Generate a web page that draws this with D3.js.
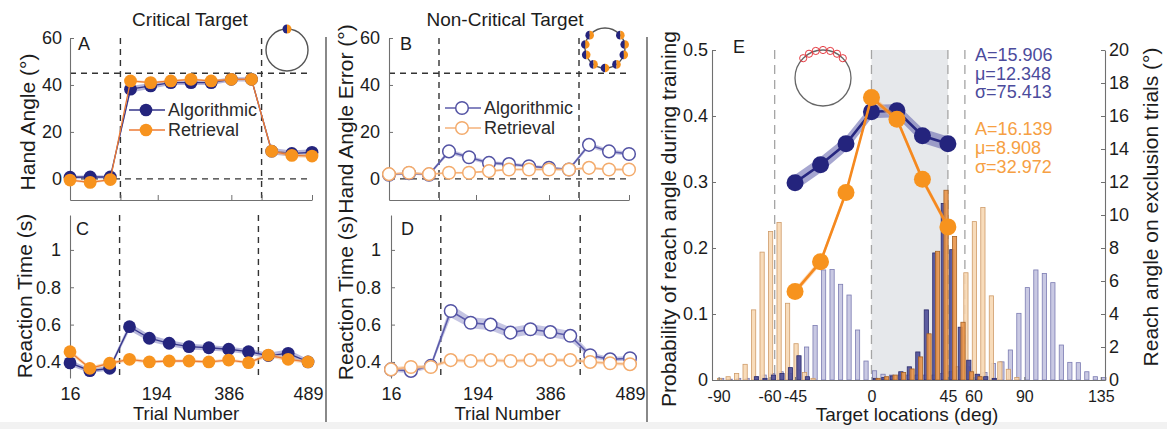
<!DOCTYPE html>
<html>
<head>
<meta charset="utf-8">
<script src="https://d3js.org/d3.v7.min.js"></script>
<style>
  body { margin: 0; background: #fff; }
  svg { display: block; }
</style>
</head>
<body>
<svg id="fig" width="1167" height="429"></svg>
<script>

///////////////////////////////////////////////////
//
//        Data
//
///////////////////////////////////////////////////

// trial bins (13 bins: baseline / training / washout)
var trialBins = [0, 1, 2, 3, 4, 5, 6, 7, 8, 9, 10, 11, 12];
var trialTickPos = [0, 4.35, 8, 12];
var trialTickLabels = ["16", "194", "386", "489"];
var phaseEdges = [2.5, 9.5];

// A - hand angle, critical target
var angleAlgoA   = [0.7, 0.8, 0.8, 38.2, 39.6, 41.0, 41.0, 41.0, 42.4, 42.4, 11.8, 10.8, 11.3];
var angleAlgoSeA = [0.6, 0.7, 0.6, 1.4, 1.2, 1.0, 1.0, 1.0, 0.9, 0.9, 1.4, 1.3, 1.3];
var angleRetrA   = [-0.5, -1.5, -0.3, 41.7, 41.0, 41.7, 42.4, 41.7, 42.4, 42.4, 11.8, 10.0, 9.7];
var angleRetrSeA = [0.5, 0.6, 0.5, 0.6, 0.5, 0.5, 0.5, 0.5, 0.5, 0.5, 0.8, 0.8, 0.8];

// B - hand angle error, non-critical targets
var errAlgoB   = [1.8, 2.4, 1.8, 11.7, 9.2, 6.8, 6.3, 5.4, 4.7, 4.0, 14.5, 11.7, 10.6];
var errAlgoSeB = [0.5, 0.5, 0.5, 1.0, 0.9, 0.8, 0.7, 0.7, 0.6, 0.6, 1.0, 0.9, 0.9];
var errRetrB   = [2.0, 2.6, 2.0, 2.6, 2.6, 3.3, 4.0, 4.0, 4.0, 4.0, 4.7, 4.0, 4.0];
var errRetrSeB = [0.4, 0.4, 0.4, 0.4, 0.4, 0.4, 0.4, 0.4, 0.4, 0.4, 0.5, 0.5, 0.5];

// C - reaction time, critical target
var rtAlgoC   = [0.395, 0.353, 0.366, 0.589, 0.527, 0.500, 0.482, 0.476, 0.468, 0.455, 0.434, 0.446, 0.400];
var rtAlgoSeC = [0.015, 0.012, 0.012, 0.020, 0.018, 0.016, 0.015, 0.015, 0.014, 0.014, 0.015, 0.020, 0.015];
var rtRetrC   = [0.455, 0.366, 0.393, 0.414, 0.400, 0.405, 0.405, 0.400, 0.410, 0.396, 0.437, 0.414, 0.400];
var rtRetrSeC = [0.012, 0.010, 0.010, 0.010, 0.008, 0.008, 0.008, 0.008, 0.008, 0.008, 0.012, 0.010, 0.010];

// D - reaction time, non-critical targets
var rtAlgoD   = [0.360, 0.352, 0.379, 0.673, 0.610, 0.600, 0.557, 0.575, 0.560, 0.540, 0.436, 0.414, 0.420];
var rtAlgoSeD = [0.012, 0.012, 0.012, 0.035, 0.030, 0.030, 0.028, 0.028, 0.026, 0.026, 0.015, 0.012, 0.012];
var rtRetrD   = [0.360, 0.373, 0.373, 0.410, 0.405, 0.410, 0.405, 0.410, 0.410, 0.410, 0.400, 0.393, 0.388];
var rtRetrSeD = [0.010, 0.010, 0.010, 0.010, 0.010, 0.010, 0.010, 0.010, 0.010, 0.010, 0.010, 0.010, 0.010];

var angleTicks = [0, 20, 40, 60];
var rtTicks = [0.4, 0.6, 0.8, 1];
var angleRefLines = [0, 45];
var nonCriticalTargets = [50, 80, 110, 145, 180, 215, 250, 280, 310];

// E - generalization
var targetLocs = [-45, -30, -15, 0, 15, 30, 45];
var probAlgo   = [0.299, 0.326, 0.358, 0.4065, 0.408, 0.370, 0.358];
var probAlgoSe = [0.012, 0.012, 0.011, 0.010, 0.010, 0.011, 0.011];
var probRetr   = [0.134, 0.179, 0.284, 0.428, 0.395, 0.304, 0.232];
var probRetrSe = [0.005, 0.005, 0.005, 0.005, 0.005, 0.005, 0.005];
var fitAlgo = ["A=15.906", "\u03bc=12.348", "\u03c3=75.413"];
var fitRetr = ["A=16.139", "\u03bc=8.908", "\u03c3=32.972"];

var histBins = [-90, -85, -80, -75, -70, -65, -60, -55, -50, -45, -40, -35, -30, -25, -20, -15,
                -10, -5, 0, 5, 10, 15, 20, 25, 30, 35, 40, 45, 50, 55, 60, 65, 70, 75, 80, 85,
                90, 95, 100, 105, 110, 115, 120, 125, 130, 135];
var histAlgoExcl = [0.1, 0.05, 0.1, 0.1, 0.2, 0.3, 0.4, 0.5, 0.4, 0.6, 2.0, 3.3, 6.67, 6.7, 5.8, 5.15,
                    3.03, 1.15, 0.56, 0.35, 0.3, 0.3, 0.3, 0.3, 0.3, 0.3, 0.4, 0.5, 0.6, 0.8, 0.3, 0.45,
                    1.0, 1.1, 1.82, 4.04, 5.6, 6.67, 6.46, 5.9, 2.12, 1.07, 1.05, 0.5, 0.2, 0.15];
var histRetrExcl = [0.1, 0.2, 0.4, 0.95, 4.25, 7.75, 9.0, 9.55, 4.65, 2.2, 0.45, 0.1, 0, 0, 0, 0,
                    0, 0, 0, 0, 0, 0, 0, 0, 0, 0, 0, 0, 0.8, 6.5, 9.6, 10.45, 5.1, 1.1, 0.65, 0.15,
                    0, 0, 0, 0, 0, 0, 0, 0, 0, 0];
var histAlgoTrain = [0, 0, 0, 0, 0.2, 0.1, 0.3, 0.4, 0.75, 1.47, 0.2, 0, 0, 0, 0, 0,
                     0, 0, 0.1, 0.15, 0.25, 0.5, 0.8, 1.7, 4.25, 7.7, 10.7, 7.9, 3.2, 1.2, 0.35, 0.2,
                     0.1, 0, 0, 0, 0, 0, 0, 0, 0, 0, 0, 0, 0, 0];
var histRetrTrain = [0, 0, 0, 0, 0, 0, 0, 0, 0, 0, 0, 0, 0, 0, 0, 0,
                     0, 0, 0.1, 0.2, 0.3, 0.45, 0.67, 1.4, 2.8, 7.8, 11.5, 8.7, 3.5, 0.5, 0.2, 0,
                     0, 0, 0, 0, 0, 0, 0, 0, 0, 0, 0, 0, 0, 0];

var xTicksE = [-90, -60, -45, 0, 45, 60, 90, 135];
var probTicks = [0, 0.1, 0.2, 0.3, 0.4, 0.5];
var pctTicks = [0, 2, 4, 6, 8, 10, 12, 14, 16, 18, 20];
var trainZone = [0, 45];
var exclEdges = [-57, 55];

///////////////////////////////////////////////////
//
//        Styles
//
///////////////////////////////////////////////////

var font = "Arial, 'Liberation Sans', Helvetica, sans-serif";
var ink = "#1c1c1c";
var axisGray = "#707070";
var navy = "#24247d", orange = "#f7931e";
var navyOpen = "#5353a4", orangeOpen = "#f3ab6c";

var svg = d3.select("#fig").attr("font-family", font);

svg.append("rect").attr("width", 1167).attr("height", 429).attr("fill", "#fff");
svg.append("rect").attr("y", 422).attr("width", 1167).attr("height", 7).attr("fill", "#f2f2f2");

// panel separators
[326, 647].forEach(function(sx) {
  svg.append("line")
    .attr("x1", sx).attr("x2", sx).attr("y1", 37).attr("y2", 422)
    .attr("stroke", "#3a3a3a").attr("stroke-width", 1.2);
});

// half blue / half orange target dot
function halfDot(g, cx, cy, r) {
  var arc = d3.arc().innerRadius(0).outerRadius(r);
  g.append("path")
    .attr("transform", "translate(" + cx + "," + cy + ")")
    .attr("d", arc({startAngle: Math.PI, endAngle: 2 * Math.PI}))
    .attr("fill", navy);
  g.append("path")
    .attr("transform", "translate(" + cx + "," + cy + ")")
    .attr("d", arc({startAngle: 0, endAngle: Math.PI}))
    .attr("fill", orange);
}

function styleAxis(ax, size) {
  ax.attr("font-family", font).attr("font-size", size);
  ax.selectAll("path.domain").attr("stroke", axisGray).attr("stroke-width", 1.1);
  ax.selectAll(".tick line").attr("stroke", axisGray);
  ax.selectAll(".tick text").attr("fill", ink);
}

///////////////////////////////////////////////////
//
//        Trial panels A - D
//
///////////////////////////////////////////////////

var trialPanel = function(cfg) {

  var g = svg.append("g");

  var x = d3.scaleLinear().domain([0, 12]).range(cfg.xr);
  var y = d3.scaleLinear().domain(cfg.yDom).range(cfg.yr);

  // reference lines
  if (cfg.top) {
    angleRefLines.forEach(function(v) {
      g.append("line")
        .attr("x1", cfg.xr[0]).attr("x2", cfg.xr[1])
        .attr("y1", y(v)).attr("y2", y(v))
        .attr("stroke", "#333").attr("stroke-width", 1.4)
        .attr("stroke-dasharray", "6,5");
    });
  }
  phaseEdges.forEach(function(v) {
    g.append("line")
      .attr("x1", x(v)).attr("x2", x(v))
      .attr("y1", cfg.yr[1]).attr("y2", cfg.yr[0])
      .attr("stroke", "#333").attr("stroke-width", 1.4)
      .attr("stroke-dasharray", "6,5");
  });

  // y axis
  var yAxis = d3.axisLeft(y)
    .tickValues(cfg.yTicks)
    .tickFormat(cfg.yFmt)
    .tickSizeInner(-4).tickSizeOuter(0)
    .tickPadding(cfg.pad);
  var ay = g.append("g")
    .attr("transform", "translate(" + cfg.xr[0] + ",0)")
    .call(yAxis);
  styleAxis(ay, 18);

  // x axis
  if (cfg.top) {
    var xAxisTop = d3.axisBottom(x)
      .tickValues(trialTickPos.concat(phaseEdges))
      .tickFormat("")
      .tickSizeInner(-5).tickSizeOuter(0);
    var axt = g.append("g")
      .attr("transform", "translate(0," + cfg.yr[0] + ")")
      .call(xAxisTop);
    styleAxis(axt, 18);
  } else {
    var xAxis = d3.axisBottom(x)
      .tickValues(trialTickPos)
      .tickFormat(function(d, i) { return trialTickLabels[i]; })
      .tickSize(0)
      .tickPadding(9);
    var axb = g.append("g")
      .attr("transform", "translate(0," + cfg.yr[0] + ")")
      .call(xAxis);
    styleAxis(axb, 18);
    axb.select("path.domain").remove();

    g.append("text")
      .attr("x", (cfg.xr[0] + cfg.xr[1]) / 2 - 3)
      .attr("y", 420)
      .attr("text-anchor", "middle")
      .attr("font-size", 18.5)
      .attr("fill", ink)
      .text("Trial Number");
  }

  // y label
  g.append("text")
    .attr("transform", "translate(" + cfg.ylab[0] + "," + cfg.ylab[1] + ") rotate(-90)")
    .attr("text-anchor", "middle")
    .attr("font-size", 21)
    .attr("fill", ink)
    .text(cfg.ylabText);

  // panel letter
  g.append("text")
    .attr("x", cfg.letterPos[0]).attr("y", cfg.letterPos[1])
    .attr("font-size", 18)
    .attr("fill", ink)
    .text(cfg.letter);

  var series = [
    {v: cfg.algo, se: cfg.algoSe, c: cfg.open ? navyOpen : navy,
     band: cfg.open ? "#8b8bc8" : "#6f6fb8", line: cfg.open ? "#5c5cab" : "#35358a"},
    {v: cfg.retr, se: cfg.retrSe, c: cfg.open ? orangeOpen : orange,
     band: cfg.open ? "#f9c89c" : "#f9b56b", line: cfg.open ? "#f5b27a" : "#ec7a34"}
  ];

  series.forEach(function(s) {
    var area = d3.area()
      .x(function(d) { return x(d); })
      .y0(function(d, i) { return y(s.v[i] - s.se[i]); })
      .y1(function(d, i) { return y(s.v[i] + s.se[i]); });
    g.append("path")
      .datum(trialBins)
      .attr("d", area)
      .attr("fill", s.band)
      .attr("fill-opacity", 0.5);

    var line = d3.line()
      .x(function(d) { return x(d); })
      .y(function(d, i) { return y(s.v[i]); });
    g.append("path")
      .datum(trialBins)
      .attr("d", line)
      .attr("fill", "none")
      .attr("stroke", s.line)
      .attr("stroke-width", cfg.open ? 1.6 : 1.3);

    g.selectAll(null)
      .data(trialBins)
      .enter()
      .append("circle")
      .attr("cx", function(d) { return x(d); })
      .attr("cy", function(d, i) { return y(s.v[i]); })
      .attr("r", cfg.open ? 6.3 : 6.4)
      .attr("fill", cfg.open ? "#fff" : s.c)
      .attr("stroke", s.c)
      .attr("stroke-width", cfg.open ? 1.5 : 0);
  });

  // legend
  if (cfg.legend) {
    var names = ["Algorithmic", "Retrieval"];
    series.forEach(function(s, i) {
      var ly = cfg.legend[1] + i * 20;
      g.append("line")
        .attr("x1", cfg.legend[0] - 17).attr("x2", cfg.legend[0] + 19)
        .attr("y1", ly).attr("y2", ly)
        .attr("stroke", s.line).attr("stroke-width", 1.5);
      g.append("circle")
        .attr("cx", cfg.legend[0]).attr("cy", ly)
        .attr("r", 6.3)
        .attr("fill", cfg.open ? "#fff" : s.c)
        .attr("stroke", s.c)
        .attr("stroke-width", cfg.open ? 1.5 : 0);
      g.append("text")
        .attr("x", cfg.legend[0] + 22).attr("y", ly)
        .attr("dy", "0.36em")
        .attr("font-size", 18)
        .attr("fill", "#2a2a2a")
        .text(names[i]);
    });
  }
};

trialPanel({
  xr: [70, 312], yr: [200, 38], yDom: [-9, 60], yTicks: angleTicks,
  yFmt: function(d) { return d; }, pad: 8, top: true, open: false,
  algo: angleAlgoA, algoSe: angleAlgoSeA, retr: angleRetrA, retrSe: angleRetrSeA,
  letter: "A", letterPos: [78, 50], ylabText: "Hand Angle (\u00b0)", ylab: [35, 122],
  legend: [146, 110]
});

trialPanel({
  xr: [389, 629], yr: [200, 38], yDom: [-9, 60], yTicks: angleTicks,
  yFmt: function(d) { return d; }, pad: 9, top: true, open: true,
  algo: errAlgoB, algoSe: errAlgoSeB, retr: errRetrB, retrSe: errRetrSeB,
  letter: "B", letterPos: [400, 50], ylabText: "Hand Angle Error (\u00b0)", ylab: [353, 119],
  legend: [462, 108]
});

trialPanel({
  xr: [70, 308], yr: [378, 215], yDom: [0.314, 1.187], yTicks: rtTicks,
  yFmt: function(d) { return d; }, pad: 9, top: false, open: false,
  algo: rtAlgoC, algoSe: rtAlgoSeC, retr: rtRetrC, retrSe: rtRetrSeC,
  letter: "C", letterPos: [76, 235], ylabText: "Reaction Time (s)", ylab: [32, 296],
  legend: null
});

trialPanel({
  xr: [391, 630], yr: [378, 215], yDom: [0.314, 1.187], yTicks: rtTicks,
  yFmt: function(d) { return d; }, pad: 10, top: false, open: true,
  algo: rtAlgoD, algoSe: rtAlgoSeD, retr: rtRetrD, retrSe: rtRetrSeD,
  letter: "D", letterPos: [401, 235], ylabText: "Reaction Time (s)", ylab: [353, 298],
  legend: null
});

// titles
svg.append("text").attr("x", 190).attr("y", 26).attr("text-anchor", "middle")
  .attr("font-size", 19).attr("fill", ink).text("Critical Target");
svg.append("text").attr("x", 505).attr("y", 26).attr("text-anchor", "middle")
  .attr("font-size", 19).attr("fill", ink).text("Non-Critical Target");

// inset: critical target
var insetA = svg.append("g");
insetA.append("circle").attr("cx", 287).attr("cy", 50).attr("r", 21)
  .attr("fill", "none").attr("stroke", "#555").attr("stroke-width", 1.4);
halfDot(insetA, 287, 29, 4.5);

// inset: non-critical targets
var insetB = svg.append("g");
insetB.append("circle").attr("cx", 605).attr("cy", 48).attr("r", 20)
  .attr("fill", "none").attr("stroke", "#555").attr("stroke-width", 1.4);
nonCriticalTargets.forEach(function(a) {
  var rad = a * Math.PI / 180;
  halfDot(insetB, 605 + 20 * Math.sin(rad), 48 - 20 * Math.cos(rad), 4.3);
});

///////////////////////////////////////////////////
//
//        Panel E - generalization
//
///////////////////////////////////////////////////

var gE = svg.append("g");

var xE = d3.scaleLinear().domain([-93.9, 137.5]).range([712, 1105]);
var yP = d3.scaleLinear().domain([0, 0.5]).range([380, 50]);
var yR = d3.scaleLinear().domain([0, 20]).range([380, 50]);

// training zone
gE.append("rect")
  .attr("x", xE(trainZone[0])).attr("y", yP(0.5))
  .attr("width", xE(trainZone[1]) - xE(trainZone[0]))
  .attr("height", yP(0) - yP(0.5))
  .attr("fill", "#e6e8eb");

trainZone.concat(exclEdges).forEach(function(v) {
  gE.append("line")
    .attr("x1", xE(v)).attr("x2", xE(v))
    .attr("y1", yP(0.5)).attr("y2", yP(0))
    .attr("stroke", "#a5a5a5").attr("stroke-width", 1.3)
    .attr("stroke-dasharray", "9,6");
});

// histograms (right axis)
var barW = xE(2.5) - xE(0);
var hists = [
  {v: histAlgoExcl, off: 1.8, fill: "#c3c3e0", stroke: "#7c7cb2"},
  {v: histRetrExcl, off: 0.6, fill: "#f7d8b4", stroke: "#cf9c6a"},
  {v: histAlgoTrain, off: 2.3, fill: "#4d4d97", stroke: "#2b2b6b"},
  {v: histRetrTrain, off: 3.9, fill: "#e99549", stroke: "#a56125"}
];
hists.forEach(function(h) {
  gE.selectAll(null)
    .data(histBins)
    .enter()
    .append("rect")
    .attr("x", function(d) { return xE(d + h.off) - barW / 2; })
    .attr("y", function(d, i) { return yR(h.v[i]); })
    .attr("width", barW)
    .attr("height", function(d, i) { return yR(0) - yR(h.v[i]); })
    .attr("fill", h.fill)
    .attr("fill-opacity", 0.9)
    .attr("stroke", h.stroke)
    .attr("stroke-width", 0.8);
});

// axes
var axL = gE.append("g").attr("transform", "translate(712,0)")
  .call(d3.axisLeft(yP).tickValues(probTicks).tickFormat(function(d) { return d; })
    .tickSizeInner(-4).tickSizeOuter(0).tickPadding(4));
styleAxis(axL, 18);

var axR = gE.append("g").attr("transform", "translate(1105,0)")
  .call(d3.axisRight(yR).tickValues(pctTicks).tickSizeInner(-4).tickSizeOuter(0).tickPadding(4));
styleAxis(axR, 18);

var axX = gE.append("g").attr("transform", "translate(0,380)")
  .call(d3.axisBottom(xE).tickValues(xTicksE).tickFormat(function(d) { return d; })
    .tickSizeInner(-3).tickSizeOuter(0).tickPadding(11));
styleAxis(axX, 16);
axX.selectAll(".tick text").text(function(d) { return d < 0 ? "-" + Math.abs(d) : d; });

// probability lines (left axis)
var lineSeries = [
  {v: probAlgo, se: probAlgoSe, c: navy, band: "#5d5daa", bandOp: 0.55, line: "#262680"},
  {v: probRetr, se: probRetrSe, c: orange, band: "#f9b56b", bandOp: 0.5, line: "#f5891f"}
];
lineSeries.forEach(function(s) {
  var area = d3.area()
    .x(function(d) { return xE(d); })
    .y0(function(d, i) { return yP(s.v[i] - s.se[i]); })
    .y1(function(d, i) { return yP(s.v[i] + s.se[i]); });
  gE.append("path").datum(targetLocs).attr("d", area)
    .attr("fill", s.band).attr("fill-opacity", s.bandOp);

  var line = d3.line()
    .x(function(d) { return xE(d); })
    .y(function(d, i) { return yP(s.v[i]); });
  gE.append("path").datum(targetLocs).attr("d", line)
    .attr("fill", "none").attr("stroke", s.line).attr("stroke-width", 2.6);

  gE.selectAll(null)
    .data(targetLocs)
    .enter()
    .append("circle")
    .attr("cx", function(d) { return xE(d); })
    .attr("cy", function(d, i) { return yP(s.v[i]); })
    .attr("r", 8.5)
    .attr("fill", s.c);
});

// fit parameters
fitAlgo.forEach(function(t, i) {
  gE.append("text").attr("x", 975).attr("y", 61 + i * 18.5)
    .attr("font-size", 18).attr("fill", "#4b4b9c").text(t);
});
fitRetr.forEach(function(t, i) {
  gE.append("text").attr("x", 975).attr("y", 135 + i * 19)
    .attr("font-size", 18).attr("fill", "#f6a043").text(t);
});

// labels
gE.append("text").attr("x", 733).attr("y", 53)
  .attr("font-size", 18).attr("fill", ink).text("E");

gE.append("text")
  .attr("transform", "translate(676,219) rotate(-90)")
  .attr("text-anchor", "middle").attr("font-size", 21).attr("fill", ink)
  .text("Probability of reach angle during training");

gE.append("text")
  .attr("transform", "translate(1158,207) rotate(-90)")
  .attr("text-anchor", "middle").attr("font-size", 21).attr("fill", ink)
  .text("Reach angle on exclusion trials (\u00b0)");

gE.append("text").attr("x", 907).attr("y", 421)
  .attr("text-anchor", "middle").attr("font-size", 19).attr("fill", ink)
  .text("Target locations (deg)");

// inset: training targets
var insetE = gE.append("g");
insetE.append("circle").attr("cx", 823).attr("cy", 78).attr("r", 28)
  .attr("fill", "none").attr("stroke", "#666").attr("stroke-width", 1.3);
targetLocs.forEach(function(a) {
  var rad = a * Math.PI / 180;
  insetE.append("circle")
    .attr("cx", 823 + 28 * Math.sin(rad)).attr("cy", 78 - 28 * Math.cos(rad))
    .attr("r", 3.6)
    .attr("fill", "none").attr("stroke", "#e5383f").attr("stroke-width", 1);
});

</script>
</body>
</html>
